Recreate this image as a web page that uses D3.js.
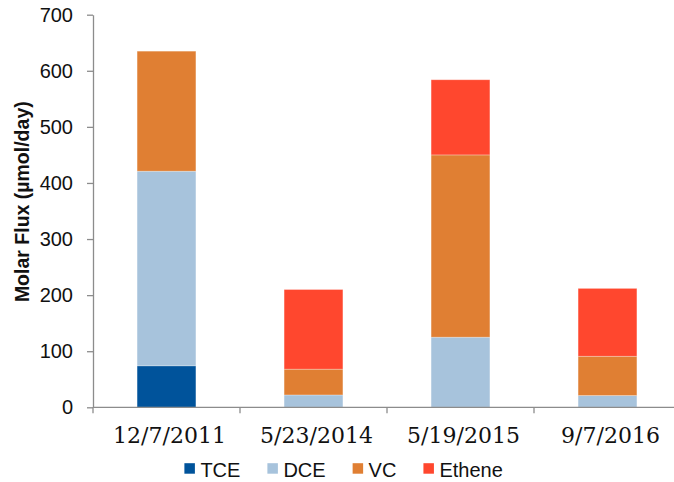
<!DOCTYPE html>
<html>
<head>
<meta charset="utf-8">
<script src="https://cdnjs.cloudflare.com/ajax/libs/d3/7.8.5/d3.min.js"></script>
<style>
  body { margin: 0; background: #fff; }
  svg { display: block; }
</style>
</head>
<body>
<div class="canvas"></div>
<script>
//=================== Data ===========================//
const categories = ['12/7/2011', '5/23/2014', '5/19/2015', '9/7/2016'];
const seriesNames = ['TCE', 'DCE', 'VC', 'Ethene'];
const TCE = [74, 0, 0, 0];
const DCE = [347, 22, 125, 21];
const VC = [214, 46, 325, 70];
const Ethene = [0, 142, 134, 121];
const yTicks = [0, 100, 200, 300, 400, 500, 600, 700];
const colors = ['#00539B', '#A7C3DC', '#E07F33', '#FF472E'];

//=============== Visualization set up ================//
const width = 674;
const height = 482;
const margin = { top: 14.7, right: -7, bottom: 74.7, left: 93 };
const graphWidth = width - margin.left - margin.right;
const graphHeight = height - margin.top - margin.bottom;

const svg = d3.select('.canvas')
    .append('svg')
    .attr('width', width)
    .attr('height', height);

const graph = svg.append('g')
    .attr('transform', `translate(${margin.left},${margin.top})`);

const x = d3.scaleBand()
    .domain(categories)
    .range([0, graphWidth])
    .padding(0);

const y = d3.scaleLinear()
    .domain([0, 700])
    .range([graphHeight, 0]);

const table = categories.map((c, i) => ({
    cat: c, TCE: TCE[i], DCE: DCE[i], VC: VC[i], Ethene: Ethene[i]
}));
const stacked = d3.stack().keys(seriesNames)(table);

const barWidth = x.bandwidth() * 0.4;

//=============== Bars ================//
graph.selectAll('g.layer')
    .data(stacked)
    .enter()
    .append('g')
    .attr('class', 'layer')
    .attr('fill', (d, i) => colors[i])
    .selectAll('rect')
    .data(d => d.filter(p => p[1] - p[0] > 0))
    .enter()
    .append('rect')
    .attr('x', d => x(d.data.cat) + (x.bandwidth() - barWidth) / 2)
    .attr('width', barWidth)
    .attr('y', d => y(d[1]))
    .attr('height', d => y(d[0]) - y(d[1]))
    .attr('stroke', '#fff')
    .attr('stroke-opacity', 0.35)
    .attr('stroke-width', 0.8);

//=============== Axes ================//
const axisColor = '#8c8c8c';

const yAxis = d3.axisLeft(y)
    .tickValues(yTicks)
    .tickSize(6)
    .tickPadding(14)
    .tickSizeOuter(0);

const yAxisGroup = graph.append('g').call(yAxis);
yAxisGroup.select('.domain').attr('stroke', axisColor).attr('stroke-width', 1.3);
yAxisGroup.selectAll('.tick line').attr('stroke', axisColor).attr('stroke-width', 1.3);
yAxisGroup.selectAll('text')
    .attr('fill', '#111')
    .style('font-family', '"Liberation Sans", Arial, sans-serif')
    .style('font-size', '20px');

// x axis: line + ticks between categories (Excel style)
const xAxisGroup = graph.append('g')
    .attr('transform', `translate(0,${graphHeight})`);

xAxisGroup.append('line')
    .attr('x1', 0)
    .attr('x2', graphWidth)
    .attr('stroke', axisColor)
    .attr('stroke-width', 1.3);

const boundaries = categories.map(c => x(c)).concat([x.range()[1]]);
xAxisGroup.selectAll('line.tick')
    .data(boundaries)
    .enter()
    .append('line')
    .attr('class', 'tick')
    .attr('x1', d => d)
    .attr('x2', d => d)
    .attr('y1', 0)
    .attr('y2', 6)
    .attr('stroke', axisColor)
    .attr('stroke-width', 1.3);

xAxisGroup.selectAll('text')
    .data(categories)
    .enter()
    .append('text')
    .attr('x', d => x(d) + x.bandwidth() / 2 + 3)
    .attr('y', 36)
    .attr('text-anchor', 'middle')
    .attr('fill', '#111')
    .style('font-family', '"DejaVu Serif", serif')
    .style('font-size', '22px')
    .text(d => d);

//=============== Y axis title ================//
svg.append('text')
    .attr('transform', `translate(29,${margin.top + 187}) rotate(-90)`)
    .attr('text-anchor', 'middle')
    .attr('fill', '#111')
    .style('font-family', '"Liberation Sans", Arial, sans-serif')
    .style('font-weight', 'bold')
    .style('font-size', '19.5px')
    .text('Molar Flux (\u00b5mol/day)');

//=============== Legend ================//
const legend = svg.append('g');
const items = legend.selectAll('g')
    .data(seriesNames)
    .enter()
    .append('g');

items.append('rect')
    .attr('width', 10.5)
    .attr('height', 10.5)
    .attr('y', -13.5)
    .attr('fill', (d, i) => colors[i]);

items.append('text')
    .attr('x', 16)
    .attr('fill', '#111')
    .style('font-family', '"Liberation Sans", Arial, sans-serif')
    .style('font-size', '20px')
    .text(d => d);

let cursor = 0;
const gap = 27;
items.each(function () {
    const w = d3.select(this).select('text').node().getComputedTextLength();
    d3.select(this).attr('transform', `translate(${cursor},0)`);
    cursor += 16 + w + gap;
});
const legendWidth = cursor - gap;
legend.attr('transform', `translate(${343.6 - legendWidth / 2},476.7)`);
</script>
</body>
</html>
